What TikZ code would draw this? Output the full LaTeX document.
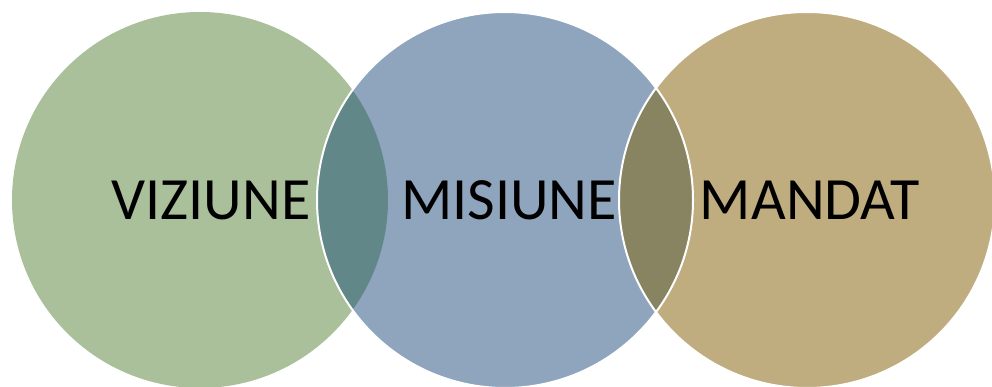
\documentclass[tikz,border=0pt]{standalone}
\usepackage{fontspec}
\setmainfont{Carlito}
\definecolor{cgreen}{RGB}{169,192,154}
\definecolor{cblue}{RGB}{143,165,189}
\definecolor{ctan}{RGB}{191,173,128}
\definecolor{ogb}{RGB}{98,135,137}
\definecolor{obt}{RGB}{136,131,96}
\tikzset{
  circ/.style={circle, minimum size=376pt, inner sep=0pt},
  lbl/.style={font=\fontsize{60}{60}\selectfont, text=black, inner sep=0pt},
}
\begin{document}
\begin{tikzpicture}[x=1pt,y=-1pt]
\useasboundingbox (0,0) rectangle (992,387);
\node[circ, fill=cgreen] (c1) at (200,200) {};
\node[circ, fill=cblue] (c2) at (505,200) {};
\node[circ, fill=ctan] (c3) at (807,200) {};
\begin{scope}
  \clip (200,200) circle (188);
  \fill[ogb] (505,200) circle (188);
\end{scope}
\begin{scope}
  \clip (505,200) circle (188);
  \fill[obt] (807,200) circle (188);
\end{scope}
\draw[white, line width=2pt] (505,200) circle (188);
\draw[white, line width=2pt] (807,200) circle (188);
\node[lbl] (t1) at (211,200) {VIZIUNE};
\node[lbl] (t2) at (509,200) {MISIUNE};
\node[lbl] (t3) at (810,200) {MANDAT};
\end{tikzpicture}
\end{document}
